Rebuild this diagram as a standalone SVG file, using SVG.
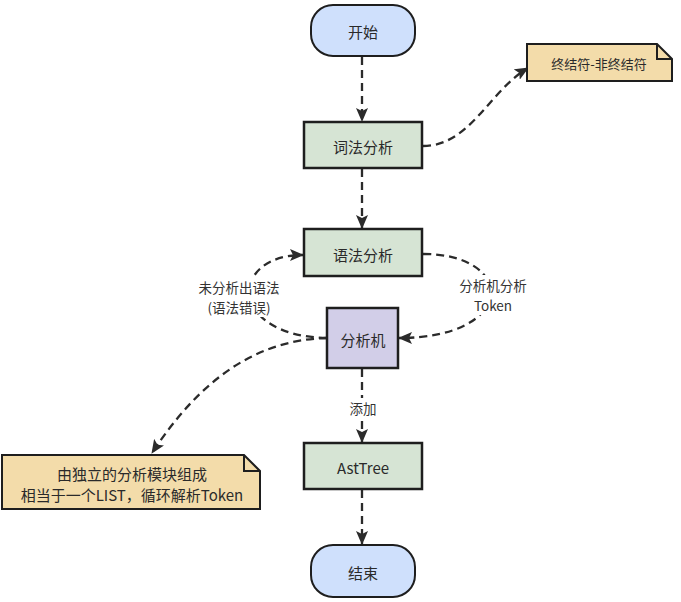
<svg xmlns="http://www.w3.org/2000/svg" width="681" height="602" viewBox="0 0 681 602">
<defs>
<marker id="arr" markerUnits="userSpaceOnUse" markerWidth="14" markerHeight="12" refX="13" refY="6" orient="auto">
<path d="M0,0 L14,6 L0,12 L3,6 Z" fill="#2b2b2b"/>
</marker>
<style>
.term{fill:#cfe0fc;stroke:#1e1e1e;stroke-width:2}
.proc{fill:#d6e4d4;stroke:#1e1e1e;stroke-width:2.5}
.mach{fill:#d2cee8;stroke:#1e1e1e;stroke-width:2.5}
.note{fill:#f3dcaa;stroke:#1e1e1e;stroke-width:2}
.fold{fill:none;stroke:#1e1e1e;stroke-width:2}
.t{font-family:"Noto Sans CJK SC","Noto Sans",sans-serif;font-size:15px;fill:#2a2a2a;text-anchor:middle;dominant-baseline:central}
.s{font-size:13px}
.lbl{font-family:"Noto Sans CJK SC","Noto Sans",sans-serif;font-size:13.5px;fill:#333;text-anchor:middle;dominant-baseline:central}
.c{fill:none;stroke:#2b2b2b;stroke-width:2.3;stroke-dasharray:8,5;marker-end:url(#arr)}
</style>
</defs>
<rect width="681" height="602" fill="#ffffff"/>
<g id="connectors">
<path class="c" d="M362,57 L362,121"/>
<path class="c" d="M362,169 L362,228"/>
<path class="c" d="M362,369 L362,442"/>
<path class="c" d="M362,490 L362,544"/>
<path class="c" d="M423,146 C470,146 490,90 528,68"/>
<path class="c" d="M327,338 C228,336 228,255 303,255"/>
<path class="c" d="M423,254 C517,254 517,338 399,338"/>
<path class="c" d="M327,338 C255,340 200,380 152,453"/>
<rect x="194" y="277" width="90" height="40" fill="#ffffff"/>
<text class="lbl" x="239" y="287">未分析出语法</text>
<text class="lbl" x="239" y="307">(语法错误)</text>
<rect x="452" y="275" width="82" height="40" fill="#ffffff"/>
<text class="lbl" x="493" y="285">分析机分析</text>
<text class="lbl" x="493" y="305">Token</text>
<rect x="345" y="398" width="34" height="20" fill="#ffffff"/>
<text class="lbl" x="363" y="408">添加</text>
</g>
<g id="start">
<rect class="term" x="311" y="5" width="104" height="51" rx="22"/>
<text class="t" x="363" y="31">开始</text>
</g>
<g id="note1">
<path class="note" d="M527,44 L657,44 L672,59 L672,81 L527,81 Z"/>
<path class="fold" d="M657,44 L657,59 L672,59"/>
<text class="t s" x="599" y="63">终结符-非终结符</text>
</g>
<g id="lexer">
<rect class="proc" x="304" y="122" width="118" height="46"/>
<text class="t" x="363" y="146">词法分析</text>
</g>
<g id="parser">
<rect class="proc" x="304" y="229" width="118" height="47"/>
<text class="t" x="363" y="254">语法分析</text>
</g>
<g id="machine">
<rect class="mach" x="327" y="308" width="71" height="60"/>
<text class="t" x="363" y="339">分析机</text>
</g>
<g id="note2">
<path class="note" d="M2,455 L244,455 L260,471 L260,509 L2,509 Z"/>
<path class="fold" d="M244,455 L244,471 L260,471"/>
<text class="t" x="132" y="473">由独立的分析模块组成</text>
<text class="t" x="132" y="494">相当于一个LIST，循环解析Token</text>
</g>
<g id="asttree">
<rect class="proc" x="304" y="443" width="118" height="46"/>
<text class="t" x="363" y="467">AstTree</text>
</g>
<g id="end">
<rect class="term" x="311" y="545" width="104" height="52" rx="22"/>
<text class="t" x="363" y="572">结束</text>
</g>
</svg>
